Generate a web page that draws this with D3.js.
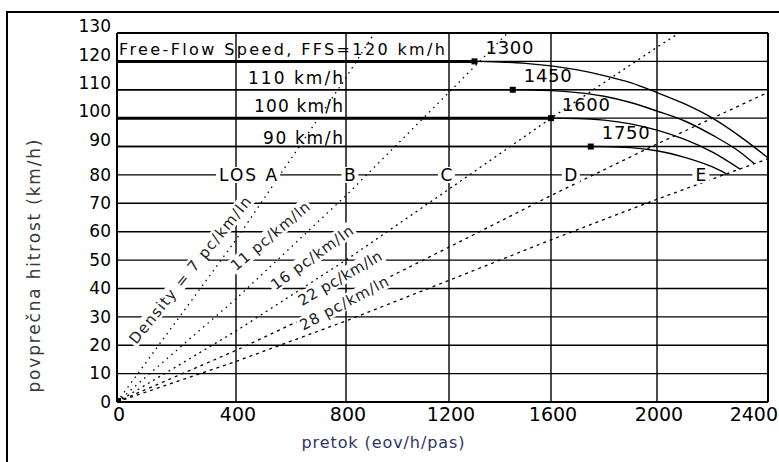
<!DOCTYPE html>
<html>
<head>
<meta charset="utf-8">
<script src="https://cdn.jsdelivr.net/npm/d3@7/dist/d3.min.js"></script>
<style>
body { margin: 0; background: #fff; }
svg { display: block; }
text { font-family: "DejaVu Sans", sans-serif; }
</style>
</head>
<body>
<script>
// axis ticks
var flowTicks = [0, 400, 800, 1200, 1600, 2000, 2400];
var speedTicks = [0, 10, 20, 30, 40, 50, 60, 70, 80, 90, 100, 110, 120, 130];

// speed-flow curves [flow, speed]
var ffsValues = [120, 110, 100, 90];
var breakFlows = [1300, 1450, 1600, 1750];
var curve120 = [[0, 120], [1300, 120], [1400, 119.8], [1500, 119.3], [1600, 118.4], [1700, 117], [1800, 115],
    [1900, 112.5], [2000, 109], [2100, 105], [2200, 100], [2300, 93.5], [2400, 86]];
var curve110 = [[0, 110], [1450, 110], [1600, 109.7], [1700, 109], [1800, 107.7], [1900, 105.5], [2000, 102.5],
    [2100, 99], [2200, 94], [2300, 88], [2350, 84]];
var curve100 = [[0, 100], [1600, 100], [1700, 99.9], [1800, 99.3], [1900, 98], [2000, 95.8], [2100, 92.5],
    [2200, 88], [2300, 82]];
var curve90 = [[0, 90], [1750, 90], [1900, 89.6], [2000, 88.5], [2100, 86.2], [2200, 82.8], [2250, 80.4]];
var curves = [curve120, curve110, curve100, curve90];
var ffsLabels = ["Free-Flow Speed, FFS=120 km/h", "110 km/h", "100 km/h", "90 km/h"];

// density lines (pc/km/ln)
var densities = [7, 11, 16, 22, 28];
var densityLabels = ["Density = 7 pc/km/ln", "11 pc/km/ln", "16 pc/km/ln", "22 pc/km/ln", "28 pc/km/ln"];

// level of service labels
var losLetters = ["LOS A", "B", "C", "D", "E"];

var w = 779, h = 462;
var svg = d3.select("body").append("svg").attr("width", w).attr("height", h);

// the scanned grid is not evenly spaced, so the flow scale is piecewise
var xScale = d3.scaleLinear().domain(flowTicks).range([117, 236, 346, 449, 551, 657, 768]);
var yScale = d3.scaleLinear().domain([0, 130]).range([402, 33]);

var line = d3.line()
    .x(function(d) { return xScale(d[0]); })
    .y(function(d) { return yScale(d[1]); });

// grid
svg.append("g").selectAll("line")
    .data(speedTicks)
    .enter().append("line")
    .attr("x1", xScale(0)).attr("x2", xScale(2400))
    .attr("y1", function(d) { return yScale(d); })
    .attr("y2", function(d) { return yScale(d); })
    .attr("stroke", "#000")
    .attr("stroke-width", function(d) { return (d == 0 || d == 130) ? 2 : 1.4; });

svg.append("g").selectAll("line")
    .data(flowTicks)
    .enter().append("line")
    .attr("y1", yScale(0)).attr("y2", yScale(130))
    .attr("x1", function(d) { return xScale(d); })
    .attr("x2", function(d) { return xScale(d); })
    .attr("stroke", "#000")
    .attr("stroke-width", function(d) { return (d == 0 || d == 2400) ? 2 : 1.4; });

// density rays from the origin
var dash = ["1.5,4.5", "1.5,4.5", "2,4", "3,4", "3,4"];
svg.append("g").selectAll("path")
    .data(densities)
    .enter().append("path")
    .attr("d", function(k) {
        var qEnd = Math.min(2400, 130 * k);
        var pts = flowTicks.filter(function(q) { return q < qEnd; }).concat([qEnd]);
        return line(pts.map(function(q) { return [q, q / k]; }));
    })
    .attr("fill", "none")
    .attr("stroke", "#000")
    .attr("stroke-width", 1.3)
    .attr("stroke-dasharray", function(k, i) { return dash[i]; });

// thick flat parts of the 120 and 100 curves
svg.append("g").selectAll("line")
    .data([0, 2])
    .enter().append("line")
    .attr("x1", xScale(0))
    .attr("x2", function(i) { return xScale(breakFlows[i]); })
    .attr("y1", function(i) { return yScale(ffsValues[i]); })
    .attr("y2", function(i) { return yScale(ffsValues[i]); })
    .attr("stroke", "#000")
    .attr("stroke-width", 3);

// speed-flow curves
svg.append("g").selectAll("path")
    .data(curves)
    .enter().append("path")
    .attr("d", line.curve(d3.curveMonotoneX))
    .attr("fill", "none")
    .attr("stroke", "#000")
    .attr("stroke-width", 1.4);

// breakpoint markers
svg.append("g").selectAll("rect")
    .data(breakFlows)
    .enter().append("rect")
    .attr("x", function(d) { return xScale(d) - 3; })
    .attr("y", function(d, i) { return yScale(ffsValues[i]) - 3; })
    .attr("width", 6).attr("height", 6)
    .attr("fill", "#000");

svg.append("rect")
    .attr("x", xScale(0)).attr("y", yScale(0) - 4)
    .attr("width", 4).attr("height", 4).attr("fill", "#000");

// breakpoint labels
svg.append("g").selectAll("text")
    .data(breakFlows)
    .enter().append("text")
    .text(function(d) { return d; })
    .attr("x", function(d) { return xScale(d) + 35; })
    .attr("y", function(d, i) { return yScale(ffsValues[i]) - 14; })
    .attr("dy", "0.36em")
    .attr("text-anchor", "middle")
    .attr("font-size", "18px")
    .attr("textLength", 48)
    .attr("fill", "#000");

// FFS labels
svg.append("text")
    .text(ffsLabels[0])
    .attr("x", xScale(0) + 2)
    .attr("y", yScale(120) - 12)
    .attr("dy", "0.36em")
    .attr("font-size", "16px")
    .attr("textLength", 326)
    .attr("fill", "#000");

svg.append("g").selectAll("text")
    .data(ffsLabels.slice(1))
    .enter().append("text")
    .text(function(d) { return d; })
    .attr("x", xScale(800) - 3)
    .attr("y", function(d, i) { return yScale(ffsValues[i + 1]) - (i == 2 ? 9 : 12); })
    .attr("dy", "0.36em")
    .attr("text-anchor", "end")
    .attr("font-size", "17px")
    .attr("textLength", function(d, i) { return [95, 89, 80][i]; })
    .attr("fill", "#000");

// LOS labels on the 80 km/h line
var losFlows = [444, 815, 1190, 1675, 2158];
var losWidth = [58, 11, 11, 12, 11];
var los = svg.append("g").selectAll("g")
    .data(losLetters)
    .enter().append("g")
    .attr("transform", function(d, i) { return "translate(" + xScale(losFlows[i]) + "," + yScale(80) + ")"; });
los.append("rect")
    .attr("x", function(d, i) { return -losWidth[i] / 2 - 3; })
    .attr("y", -8)
    .attr("width", function(d, i) { return losWidth[i] + 6; })
    .attr("height", 16)
    .attr("fill", "#fff");
los.append("text")
    .text(function(d) { return d; })
    .attr("text-anchor", "middle")
    .attr("dy", "0.36em")
    .attr("font-size", "17px")
    .attr("textLength", function(d, i) { return losWidth[i]; })
    .attr("fill", "#000");

// density labels
var dLabelFlow = [245, 524, 676, 778, 793];
var dLabelSpeed = [46.5, 58.5, 51, 43.7, 34.9];
var dLabelAngle = [51, 40, 36, 30, 28];
var dLabelLen = [184, 98, 98, 94, 98];
var dl = svg.append("g").selectAll("g")
    .data(densityLabels)
    .enter().append("g")
    .attr("transform", function(d, i) {
        return "translate(" + xScale(dLabelFlow[i]) + "," + yScale(dLabelSpeed[i]) + ") rotate(" + (-dLabelAngle[i]) + ")";
    });
dl.append("rect")
    .attr("x", function(d, i) { return -dLabelLen[i] / 2 - 2; })
    .attr("y", -8)
    .attr("width", function(d, i) { return dLabelLen[i] + 4; })
    .attr("height", 16)
    .attr("fill", "#fff");
dl.append("text")
    .text(function(d) { return d; })
    .attr("text-anchor", "middle")
    .attr("dy", "0.36em")
    .attr("font-size", "15px")
    .attr("textLength", function(d, i) { return dLabelLen[i]; })
    .attr("fill", "#222");

// tick labels
svg.append("g").selectAll("text")
    .data(speedTicks)
    .enter().append("text")
    .text(function(d) { return d; })
    .attr("x", 111)
    .attr("y", function(d) { return yScale(d); })
    .attr("dy", function(d) { return d >= 90 ? "-0.05em" : "0.34em"; })
    .attr("text-anchor", "end")
    .attr("font-size", "17px")
    .attr("fill", "#000");

svg.append("g").selectAll("text")
    .data(flowTicks)
    .enter().append("text")
    .text(function(d) { return d; })
    .attr("x", function(d) { return d == 2400 ? 778 : xScale(d) + 2; })
    .attr("y", 421)
    .attr("text-anchor", function(d) { return d == 2400 ? "end" : "middle"; })
    .attr("font-size", "19px")
    .attr("fill", "#000");

// axis titles
svg.append("text")
    .text("pretok (eov/h/pas)")
    .attr("x", 383).attr("y", 448)
    .attr("text-anchor", "middle")
    .attr("font-size", "16px")
    .attr("textLength", 163)
    .attr("fill", "#2f3466");

svg.append("text")
    .text("povprečna hitrost (km/h)")
    .attr("transform", "translate(40,266) rotate(-90)")
    .attr("text-anchor", "middle")
    .attr("font-size", "17px")
    .attr("textLength", 253)
    .attr("fill", "#3a3a3a");

// outer frame (cut off by the picture on the right and bottom)
svg.append("path")
    .attr("d", "M7," + h + "V12H" + w)
    .attr("fill", "none")
    .attr("stroke", "#000")
    .attr("stroke-width", 2);
</script>
</body>
</html>
